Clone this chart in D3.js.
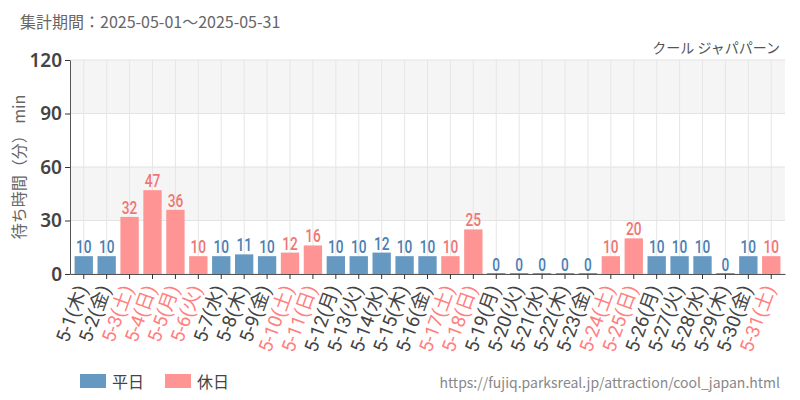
<!DOCTYPE html><html><head><meta charset="utf-8"><script src="https://cdn.jsdelivr.net/npm/d3@7/dist/d3.min.js"></script>
<style>body{margin:0;background:#fff}</style></head><body><svg id="c" width="800" height="400"></svg><script>
const days=["5-1","5-2","5-3","5-4","5-5","5-6","5-7","5-8","5-9","5-10","5-11","5-12","5-13","5-14","5-15","5-16","5-17","5-18","5-19","5-20","5-21","5-22","5-23","5-24","5-25","5-26","5-27","5-28","5-29","5-30","5-31"];
const weekdays=["木","金","土","日","月","火","水","木","金","土","日","月","火","水","木","金","土","日","月","火","水","木","金","土","日","月","火","水","木","金","土"];
const waits=[10,10,32,47,36,10,10,11,10,12,16,10,10,12,10,10,10,25,0,0,0,0,0,10,20,10,10,10,0,10,10];
const holiday=[0,0,1,1,1,1,0,0,0,1,1,0,0,0,0,0,1,1,0,0,0,0,0,1,1,0,0,0,0,0,1];
const yTicks=[0,30,60,90,120];
const svg=d3.select("#c");
const L=70,R=785,T=60,B=274;
const x=d3.scaleBand().domain(days).range([L,R]).padding(0.2);
const y=d3.scaleLinear().domain([0,120]).range([B,T]);
const fam="'Noto Sans CJK JP','Noto Sans',sans-serif";
[[90,120],[30,60]].forEach(b=>svg.append("rect").attr("x",L).attr("width",R-L).attr("y",y(b[1])).attr("height",y(b[0])-y(b[1])).attr("fill","#f5f5f5"));
yTicks.forEach(t=>svg.append("line").attr("x1",L).attr("x2",R).attr("y1",y(t)).attr("y2",y(t)).attr("stroke","#e3e3e3"));
days.forEach(d=>svg.append("line").attr("x1",x(d)+x.bandwidth()/2).attr("x2",x(d)+x.bandwidth()/2).attr("y1",T).attr("y2",B).attr("stroke","#e6e6e6"));
const col=i=>holiday[i]?"#ff9494":"#6699c2", tcol=i=>holiday[i]?"#f07575":"#4a80b3";
svg.selectAll(".b").data(waits).join("rect").attr("x",(d,i)=>x(days[i])).attr("width",x.bandwidth())
 .attr("y",d=>y(d)-(d===0?1:0)).attr("height",d=>y(0)-y(d)+(d===0?1:0)).attr("fill",(d,i)=>col(i));
svg.selectAll(".v").data(waits).join("text")
 .attr("transform",(d,i)=>`translate(${x(days[i])+x.bandwidth()/2},${y(d)-3}) scale(0.72,1)`)
 .attr("text-anchor","middle").attr("fill",(d,i)=>tcol(i)).attr("font-family","Roboto,sans-serif").attr("font-size",19).attr("font-weight","500").text(d=>d);
const ya=svg.append("g").attr("transform",`translate(${L},0)`).call(d3.axisLeft(y).tickValues(yTicks).tickSize(5).tickSizeOuter(0));
ya.select(".domain").attr("stroke","#555");ya.selectAll(".tick line").attr("stroke","#333");
ya.selectAll("text").attr("font-size",19).attr("fill","#444").attr("font-family","'Noto Sans',sans-serif").attr("font-weight","600");
const xa=svg.append("g").attr("transform",`translate(0,${B})`).call(d3.axisBottom(x).tickSize(5).tickSizeOuter(0).tickFormat((d,i)=>d+"("+weekdays[i]+")"));
xa.select(".domain").attr("stroke","#555");xa.selectAll(".tick line").attr("stroke","#333");
xa.selectAll("text").attr("font-size",19).attr("font-family","Roboto,'Noto Sans CJK JP',sans-serif").attr("fill",(d,i)=>holiday[i]?"#ff8080":"#444")
 .attr("text-anchor","end").attr("dy","0.35em").attr("transform","translate(-2,12) rotate(-70)").attr("x",0).attr("y",0);
svg.append("text").attr("x",20).attr("y",28).attr("font-size",16).attr("fill","#666").attr("font-family",fam).text("集計期間：2025-05-01～2025-05-31");
svg.append("text").attr("x",780).attr("y",53).attr("text-anchor","end").attr("font-size",14).attr("fill","#555").attr("font-family",fam).text("クール ジャパパーン");
svg.append("text").attr("transform",`translate(25,${(T+B)/2}) rotate(-90)`).attr("text-anchor","middle").attr("font-size",16).attr("fill","#666").attr("font-family",fam).text("待ち時間（分） min");
[["平日","#6699c2",80],["休日","#ff9494",165]].forEach(l=>{svg.append("rect").attr("x",l[2]).attr("y",374).attr("width",26).attr("height",14).attr("fill",l[1]);
 svg.append("text").attr("x",l[2]+32).attr("y",388).attr("font-size",16).attr("fill","#444").attr("font-family",fam).text(l[0]);});
svg.append("text").attr("x",780).attr("y",388).attr("text-anchor","end").attr("font-size",14).attr("fill","#888").attr("font-family",fam).text("https://fujiq.parksreal.jp/attraction/cool_japan.html");
</script></body></html>
